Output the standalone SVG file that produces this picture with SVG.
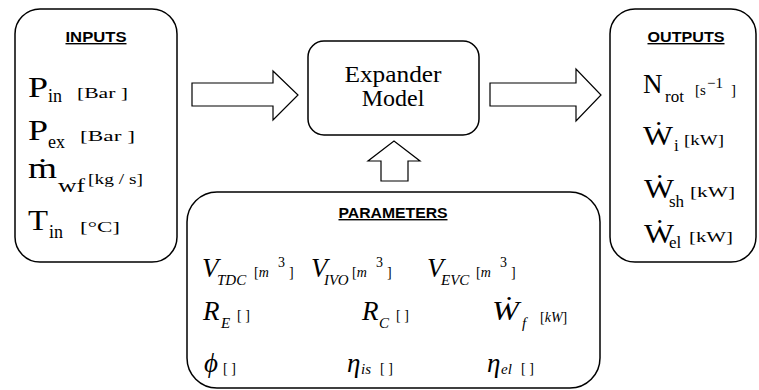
<svg xmlns="http://www.w3.org/2000/svg" width="759" height="390" viewBox="0 0 759 390">
<style>
.box{fill:#fff;stroke:#000;stroke-width:1.5}
.arr{fill:#fff;stroke:#000;stroke-width:1.2}
.ttl{font-family:"Liberation Sans",Arial,sans-serif;font-weight:bold;font-size:14px;text-decoration:underline}
.s{font-family:"Liberation Serif","Times New Roman",serif;fill:#000}
.i{font-style:italic}
.b30{font-size:30px}
.b27{font-size:27px}
.sub{font-size:18px}
.sm{font-size:15px}
.u{font-size:15px}
.u14{font-size:14px}
</style>
<rect width="759" height="390" fill="#fff"/>
<g id="connectors">
<polygon class="arr" points="192,83 273,83 273,71 298,95 273,120 273,106 192,106"/>
<polygon class="arr" points="490,83 576,83 576,69 601,95 576,121 576,106 490,106"/>
<polygon class="arr" points="381,181 381,161 368,161 394,141 420,161 408,161 408,181"/>
</g>
<g id="inputs">
<rect class="box" x="15" y="9" width="162" height="253" rx="25"/>
<text class="ttl" x="96" y="42" text-anchor="middle" textLength="61" lengthAdjust="spacingAndGlyphs">INPUTS</text>
<text class="s b30" x="28" y="97" textLength="20" lengthAdjust="spacingAndGlyphs">P</text>
<text class="s sub" x="48" y="102">in</text>
<text class="s u" x="77" y="98" textLength="51" lengthAdjust="spacingAndGlyphs">[Bar ]</text>
<text class="s b30" x="28" y="140" textLength="20" lengthAdjust="spacingAndGlyphs">P</text>
<text class="s sub" x="48" y="148">ex</text>
<text class="s u" x="80" y="141" textLength="55" lengthAdjust="spacingAndGlyphs">[Bar ]</text>
<text class="s b30" x="28" y="178" textLength="29" lengthAdjust="spacingAndGlyphs">ṁ</text>
<text class="s sub" x="58" y="192" textLength="27" lengthAdjust="spacingAndGlyphs">wf</text>
<text class="s u" x="88" y="184" textLength="55" lengthAdjust="spacingAndGlyphs">[kg / s]</text>
<text class="s b30" x="28" y="230" textLength="20" lengthAdjust="spacingAndGlyphs">T</text>
<text class="s sub" x="49" y="238">in</text>
<text class="s u" x="80" y="232" textLength="40" lengthAdjust="spacingAndGlyphs">[°C]</text>
</g>
<g id="expander">
<rect class="box" x="308" y="41" width="171" height="94" rx="16"/>
<text class="s" x="393" y="82" font-size="24" text-anchor="middle" textLength="97" lengthAdjust="spacingAndGlyphs">Expander</text>
<text class="s" x="393" y="106" font-size="24" text-anchor="middle">Model</text>
</g>
<g id="outputs">
<rect class="box" x="610" y="9" width="146" height="253" rx="25"/>
<text class="ttl" x="686" y="42" text-anchor="middle" textLength="77" lengthAdjust="spacingAndGlyphs">OUTPUTS</text>
<text class="s b27" x="643" y="93">N</text>
<text class="s" x="665" y="102" font-size="17">rot</text>
<text class="s u" x="695" y="95">[s</text>
<text class="s u" x="707" y="88">−1</text>
<text class="s u" x="731" y="95">]</text>
<text class="s b27" x="643" y="145" textLength="30" lengthAdjust="spacingAndGlyphs">Ẇ</text>
<text class="s" x="674" y="151" font-size="17">i</text>
<text class="s u" x="684" y="145" textLength="40" lengthAdjust="spacingAndGlyphs">[kW]</text>
<text class="s b27" x="644" y="198" textLength="30" lengthAdjust="spacingAndGlyphs">Ẇ</text>
<text class="s" x="669" y="207" font-size="17">sh</text>
<text class="s u" x="690" y="197" textLength="45" lengthAdjust="spacingAndGlyphs">[kW]</text>
<text class="s b27" x="644" y="243" textLength="30" lengthAdjust="spacingAndGlyphs">Ẇ</text>
<text class="s" x="669" y="248" font-size="17">el</text>
<text class="s u" x="689" y="242" textLength="44" lengthAdjust="spacingAndGlyphs">[kW]</text>
</g>
<g id="parameters">
<rect class="box" x="187" y="192" width="413" height="196" rx="30"/>
<text class="ttl" x="393" y="218" text-anchor="middle" textLength="109" lengthAdjust="spacingAndGlyphs">PARAMETERS</text>
<text class="s i b27" x="202" y="277">V</text>
<text class="s i sm" x="217" y="285">TDC</text>
<text class="s u14" x="254" y="277">[<tspan class="i">m</tspan></text>
<text class="s u14" x="278" y="267">3</text>
<text class="s u14" x="289" y="277">]</text>
<text class="s i b27" x="311" y="277">V</text>
<text class="s i sm" x="324" y="285">IVO</text>
<text class="s u14" x="352" y="277">[<tspan class="i">m</tspan></text>
<text class="s u14" x="376" y="267">3</text>
<text class="s u14" x="387" y="277">]</text>
<text class="s i b27" x="427" y="277">V</text>
<text class="s i sm" x="441" y="285">EVC</text>
<text class="s u14" x="476" y="277">[<tspan class="i">m</tspan></text>
<text class="s u14" x="500" y="267">3</text>
<text class="s u14" x="511" y="277">]</text>
<text class="s i b27" x="203" y="320">R</text>
<text class="s i sm" x="221" y="328">E</text>
<text class="s u14" x="237" y="320">[ ]</text>
<text class="s i b27" x="362" y="320">R</text>
<text class="s i sm" x="379" y="328">C</text>
<text class="s u14" x="396" y="320">[ ]</text>
<text class="s i b27" x="492" y="320" textLength="27" lengthAdjust="spacingAndGlyphs">Ẇ</text>
<text class="s i sm" x="522" y="328">f</text>
<text class="s u14" x="540" y="322">[<tspan class="i">kW</tspan>]</text>
<text class="s i b27" x="204" y="372">ϕ</text>
<text class="s u14" x="223" y="373">[ ]</text>
<text class="s i b27" x="347" y="372">η</text>
<text class="s i sm" x="361" y="374">is</text>
<text class="s u14" x="380" y="373">[ ]</text>
<text class="s i b27" x="487" y="372">η</text>
<text class="s i sm" x="501" y="374">el</text>
<text class="s u14" x="521" y="373">[ ]</text>
</g>
</svg>
